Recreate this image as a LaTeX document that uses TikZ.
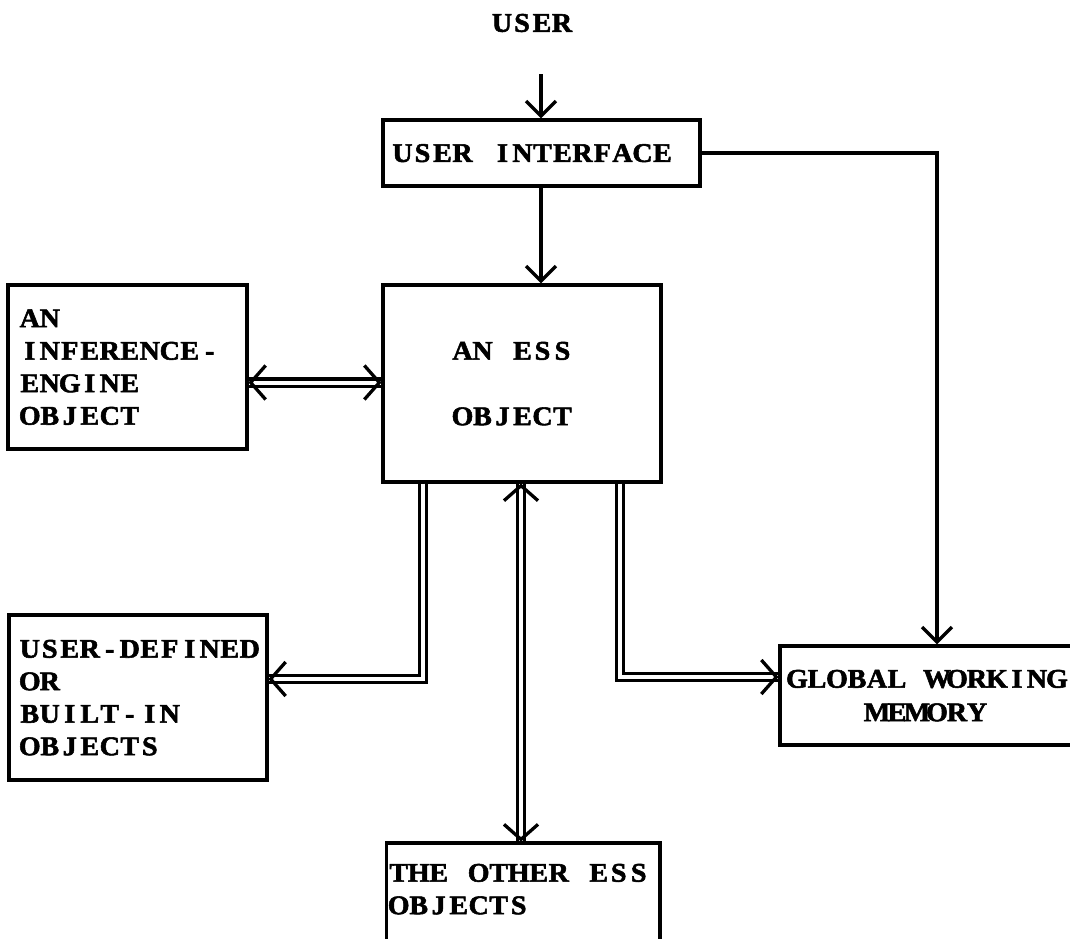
\documentclass[tikz,border=0pt]{standalone}
\usepackage{fontspec}
\newfontfamily\typerfont[FakeStretch=1.04,FakeBold=2]{Liberation Serif}
\usetikzlibrary{arrows.meta}

% typewriter-style setting: every character sits in a cell of fixed pitch
\newcommand\ty[1]{\leavevmode\tyword#1 \tyend}
\def\tyword#1 #2\tyend{\tychars#1\relax
  \ifx\relax#2\relax\else\hbox to 20pt{}\tyword#2\tyend\fi}
\def\tychars#1{\ifx#1\relax\else\hbox to 20pt{\hss#1\hss}\expandafter\tychars\fi}

\begin{document}
\begin{tikzpicture}[x=1pt,y=-1pt,
  typed/.style={font=\typerfont\bfseries\fontsize{27}{32.5}\selectfont},
  box/.style={typed, draw, line width=3.3pt, rectangle, inner ysep=0pt, text height=17.9pt},
  wire/.style={line width=3.3pt, -{Straight Barb[length=15pt,width=30pt]}},
  dbl/.style={line width=3.2pt, double, double distance=4pt},
  barb/.pic={\draw[line width=3.3pt, line join=miter] (-17,-17) -- (-2,0) -- (-17,17);}
]
\useasboundingbox (0,0) rectangle (1070,938);

% boxes
\node[typed] (user) at (532,23) {\ty{USER}};
\node[box, minimum width=317pt, minimum height=66pt, text width=298pt,
      inner xsep=9.5pt, align=left, text depth=0pt] (ui) at (541.5,153)
      {\ty{USER INTERFACE}};
\node[box, minimum width=278pt, minimum height=197pt, text width=139pt,
      inner xsep=69.5pt, align=left, text depth=65.5pt] (ess) at (522,383.5)
      {\ty{AN ESS}\\[33pt]\ty{OBJECT}};
\node[box, minimum width=239pt, minimum height=164pt, text width=215.4pt,
      inner xsep=11.8pt, align=left, text depth=97.5pt] (inf) at (127.5,367)
      {\ty{AN}\\\ty{INFERENCE-}\\\ty{ENGINE}\\\ty{OBJECT}};
\node[box, minimum width=258pt, minimum height=165pt, text width=236.4pt,
      inner xsep=10.8pt, align=left, text depth=97.5pt] (udef) at (138,697.5)
      {\ty{USER-DEFINED}\\\ty{OR}\\\ty{BUILT-IN}\\\ty{OBJECTS}};
\node[box, minimum width=294pt, minimum height=99pt, text width=290pt,
      inner xsep=2pt, align=center, text depth=33.5pt] (gwm) at (927,695.5)
      {\ty{GLOBAL WORKING}\\[1pt]\ty{MEMORY}};
\node[box, minimum width=273.3pt, minimum height=98pt, text width=269.3pt,
      inner xsep=2pt, align=left, text depth=38.5pt] (other) at (523.35,892)
      {\ty{THE OTHER ESS}\\\ty{OBJECTS}};

% reference points for the connectors
\coordinate (ustart) at (541,74);
\coordinate (xa) at (541,0);
\coordinate (gcorner) at (937,153);
\coordinate (yb) at (0,382.5);
\coordinate (c1) at (423,679);
\coordinate (c2) at (521,0);
\coordinate (c3) at (620,677);

% single connectors
\draw[wire] (ustart) -- (ui.north -| ustart);
\draw[wire] (ui.south -| xa) -- (ess.north -| xa);
\draw[wire] (ui.east) -| (gwm.north -| gcorner);

% double connectors
\draw[dbl] (inf.east |- yb) -- (ess.west |- yb);
\pic at (ess.west |- yb) {barb};
\pic[rotate=180] at (inf.east |- yb) {barb};

\draw[dbl] (ess.south -| c1) |- (udef.east |- c1);
\pic[rotate=180] at (udef.east |- c1) {barb};

\draw[dbl] (ess.south -| c2) -- (other.north -| c2);
\pic[rotate=-90] at (other.north -| c2) {barb};
\pic[rotate=90] at (ess.south -| c2) {barb};

\draw[dbl] (ess.south -| c3) |- (gwm.west |- c3);
\pic at (gwm.west |- c3) {barb};
\end{tikzpicture}
\end{document}
